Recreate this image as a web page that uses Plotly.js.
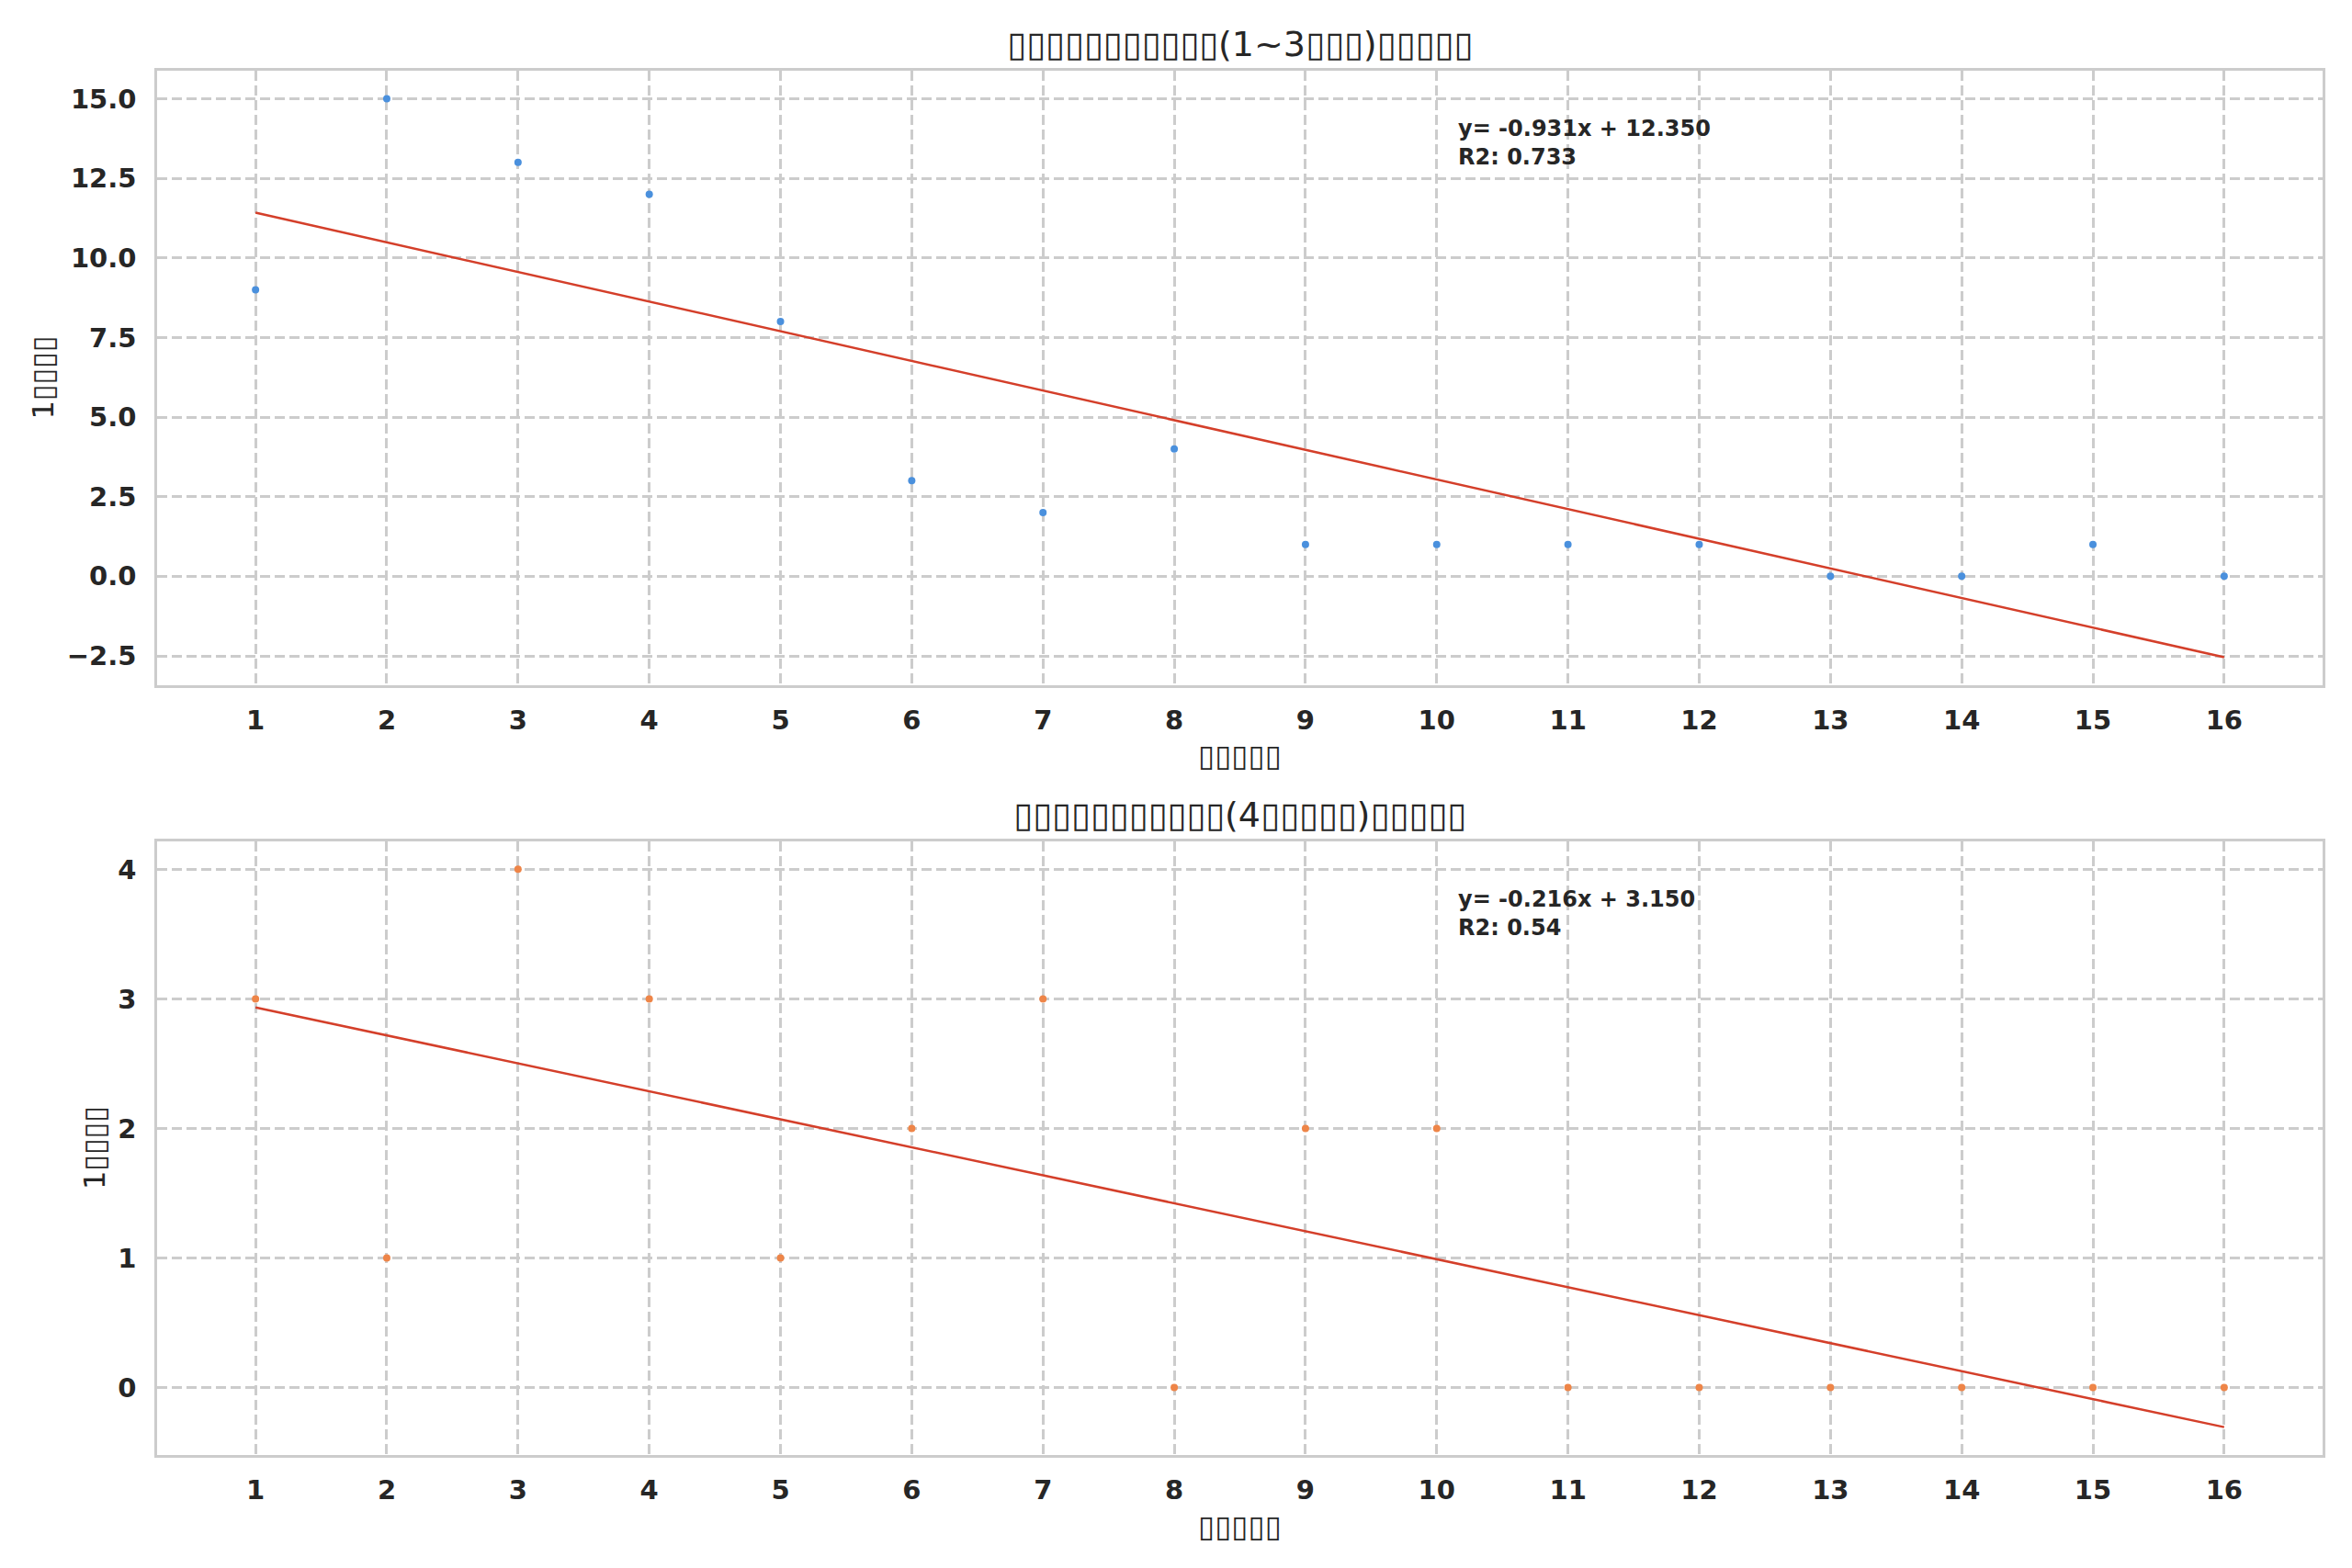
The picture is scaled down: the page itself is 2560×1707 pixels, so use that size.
<!DOCTYPE html>
<html>
<head>
<meta charset="utf-8">
<script src="https://cdn.plot.ly/plotly-3.0.1.min.js"></script>
<style>
  html, body { margin: 0; padding: 0; background: #ffffff; }
  #chart { width: 2560px; height: 1707px; }
</style>
</head>
<body>
<div id="chart"></div>
<script>
// x values (week index) shared by both panels
const weeks = [1, 2, 3, 4, 5, 6, 7, 8, 9, 10, 11, 12, 13, 14, 15, 16];
// counts
const countsTop = [9, 15, 13, 12, 8, 3, 2, 4, 1, 1, 1, 1, 0, 0, 1, 0];
const countsBottom = [3, 1, 4, 3, 1, 2, 3, 0, 2, 2, 0, 0, 0, 0, 0, 0];
// fitted line parameters shown in the panel notes
const fitSlope = [-0.931, -0.216];
const fitIntercept = [12.350, 3.150];
const fitR2 = ['0.733', '0.54'];
// texts (glyphs were missing in the source image, drawn as boxes)
const panelTitles = [
    '▯▯▯▯▯▯▯▯▯▯▯(1~3▯▯▯)▯▯▯▯▯',
    '▯▯▯▯▯▯▯▯▯▯▯(4▯▯▯▯▯)▯▯▯▯▯'
];
const xLabel = '▯▯▯▯▯';
const yLabel = '1▯▯▯▯';

const TEXT = '#262626';
const GRID = '#cccccc';
const POINT_COLORS = ['#4a90dd', '#ee8548'];
const LINE_COLOR = '#d43f2a';

const W = 2560, H = 1707;
const plotLeft = 171, plotRight = 2528;
// [top, bottom] pixel rows of each panel
const panelRows = [[77, 746], [916, 1584]];

function paddedRange(values) {
    const lo = Math.min(...values), hi = Math.max(...values);
    const pad = (hi - lo) * 0.05;
    return [lo - pad, hi + pad];
}

const series = [countsTop, countsBottom];
const traces = [];
const layout = {
    width: W, height: H,
    margin: { l: 0, r: 0, t: 0, b: 0 },
    paper_bgcolor: '#ffffff',
    plot_bgcolor: '#ffffff',
    showlegend: false,
    font: { family: 'DejaVu Sans', color: TEXT },
    annotations: []
};

for (let i = 0; i < 2; i++) {
    const ax = i === 0 ? '' : '2';
    const xs = [weeks[0], weeks[weeks.length - 1]];
    const fitY = xs.map(x => fitSlope[i] * x + fitIntercept[i]);

    traces.push({
        type: 'scatter', mode: 'markers',
        x: weeks, y: series[i],
        marker: { color: POINT_COLORS[i], size: 8 },
        xaxis: 'x' + ax, yaxis: 'y' + ax,
        hoverinfo: 'x+y'
    });
    traces.push({
        type: 'scatter', mode: 'lines',
        x: xs, y: fitY,
        line: { color: LINE_COLOR, width: 2.5 },
        xaxis: 'x' + ax, yaxis: 'y' + ax,
        hoverinfo: 'skip'
    });

    const [top, bottom] = panelRows[i];
    const yRange = paddedRange(series[i].concat(fitY));

    layout['xaxis' + ax] = {
        domain: [plotLeft / W, plotRight / W],
        anchor: 'y' + ax,
        range: [0.25, 16.75],
        tickmode: 'array', tickvals: weeks,
        ticks: '', ticklabelstandoff: 10,
        tickfont: { size: 29, family: 'DejaVu Sans', weight: 'bold', color: TEXT },
        showgrid: true, gridcolor: GRID, gridwidth: 2.5, griddash: '11px,5px',
        zeroline: false,
        showline: true, mirror: true, linecolor: GRID, linewidth: 2.5
    };
    layout['yaxis' + ax] = {
        domain: [1 - bottom / H, 1 - top / H],
        anchor: 'x' + ax,
        range: yRange,
        dtick: i === 0 ? 2.5 : 1,
        tick0: 0,
        tickformat: i === 0 ? '.1f' : 'd',
        ticks: '', ticklabelstandoff: 14,
        tickfont: { size: 29, family: 'DejaVu Sans', weight: 'bold', color: TEXT },
        showgrid: true, gridcolor: GRID, gridwidth: 2.5, griddash: '11px,5px',
        zeroline: false,
        showline: true, mirror: true, linecolor: GRID, linewidth: 2.5
    };

    // panel title
    layout.annotations.push({
        text: panelTitles[i], xref: 'paper', yref: 'paper',
        x: (plotLeft + plotRight) / 2 / W, y: 1 - (top - 29) / H,
        xanchor: 'center', yanchor: 'middle', showarrow: false,
        font: { size: 38, color: TEXT }
    });
    // x axis title
    layout.annotations.push({
        text: xLabel, xref: 'paper', yref: 'paper',
        x: (plotLeft + plotRight) / 2 / W, y: 1 - (bottom + 77) / H,
        xanchor: 'center', yanchor: 'middle', showarrow: false,
        font: { size: 33, color: TEXT }
    });
    // y axis title
    layout.annotations.push({
        text: yLabel, xref: 'paper', yref: 'paper',
        x: (i === 0 ? 47 : 103) / W, y: 1 - (top + bottom) / 2 / H,
        xanchor: 'center', yanchor: 'middle', textangle: -90, showarrow: false,
        font: { size: 32, color: TEXT }
    });
    // fit note
    const sign = fitIntercept[i] >= 0 ? '+' : '-';
    layout.annotations.push({
        text: 'y= ' + fitSlope[i].toFixed(3) + 'x ' + sign + ' ' + Math.abs(fitIntercept[i]).toFixed(3) +
              '<br>R2: ' + fitR2[i],
        xref: 'x' + ax + ' domain', yref: 'y' + ax + ' domain',
        x: 0.6, y: 0.93, xanchor: 'left', yanchor: 'top', align: 'left',
        showarrow: false,
        font: { size: 24, weight: 'bold', color: TEXT }
    });
}

Plotly.newPlot('chart', traces, layout, { displayModeBar: false, responsive: false });
</script>
</body>
</html>
